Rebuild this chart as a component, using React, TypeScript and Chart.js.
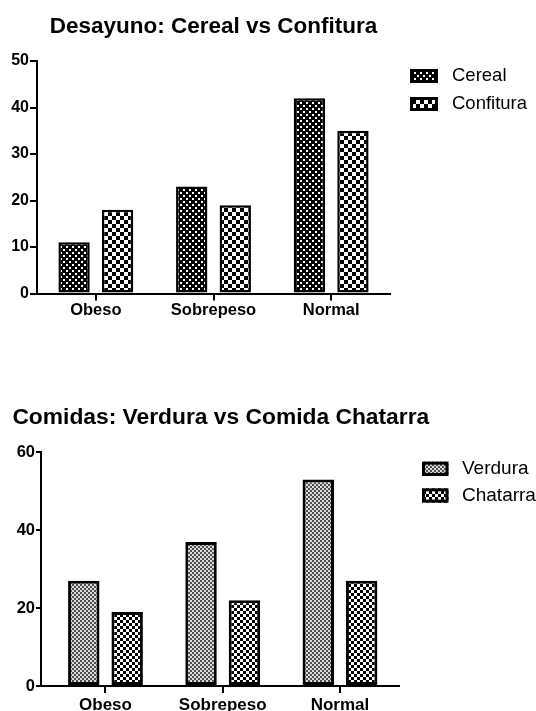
import React, { useEffect, useRef } from "react";
import { Chart, registerables } from "chart.js";

Chart.register(...registerables);

// ---- data ----
const categories = ["Obeso", "Sobrepeso", "Normal"];

const desayunoTitle = "Desayuno: Cereal vs Confitura";
const cerealLabel = "Cereal";
const cerealValues = [11, 23, 42];
const confituraLabel = "Confitura";
const confituraValues = [18, 19, 35];
const desayunoTicks = [0, 10, 20, 30, 40, 50];

const comidasTitle = "Comidas: Verdura vs Comida Chatarra";
const verduraLabel = "Verdura";
const verduraValues = [27, 37, 53];
const chatarraLabel = "Chatarra";
const chatarraValues = [19, 22, 27];
const comidasTicks = [0, 20, 40, 60];

const FONT = "'Liberation Sans', Arial, Helvetica, sans-serif";

// repeating tile: background colour plus a list of [x, y, w, h] squares in the second colour
function tilePattern(
  size: number,
  bg: string,
  fg: string,
  squares: number[][]
): CanvasPattern | string {
  const tile = document.createElement("canvas");
  tile.width = size;
  tile.height = size;
  const c = tile.getContext("2d");
  if (!c) return bg;
  c.fillStyle = bg;
  c.fillRect(0, 0, size, size);
  c.fillStyle = fg;
  squares.forEach(([x, y, w, h]) => c.fillRect(x, y, w, h));
  const main = document.createElement("canvas").getContext("2d");
  return (main && main.createPattern(tile, "repeat")) || bg;
}

const checker = (cell: number, dark: string, light: string) =>
  tilePattern(cell * 2, light, dark, [
    [0, 0, cell, cell],
    [cell, cell, cell, cell],
  ]);

// small white dots on black, staggered
const dots = () =>
  tilePattern(6, "#000", "#fff", [
    [0, 0, 2, 2],
    [3, 3, 2, 2],
  ]);

// chart title centred over the plot area
const panelTitle = {
  id: "panelTitle",
  afterDraw(chart: any, _args: any, opts: any) {
    const { ctx, chartArea } = chart;
    ctx.save();
    ctx.fillStyle = "#000";
    ctx.font = `bold ${opts.size}px ${FONT}`;
    ctx.textAlign = "center";
    ctx.textBaseline = "middle";
    ctx.fillText(opts.text, (chartArea.left + chartArea.right) / 2 + (opts.dx || 0), opts.y);
    ctx.restore();
  },
};

// legend drawn beside the plot area, one swatch per dataset
const sideLegend = {
  id: "sideLegend",
  afterDraw(chart: any, _args: any, opts: any) {
    const { ctx, chartArea } = chart;
    ctx.save();
    chart.data.datasets.forEach((ds: any, i: number) => {
      const cy = chartArea.top + opts.firstY + i * opts.spacing;
      const x = chartArea.right + opts.offsetX;
      const y = cy - opts.boxH / 2;
      ctx.fillStyle = ds.backgroundColor;
      ctx.fillRect(x, y, opts.boxW, opts.boxH);
      const b = opts.border;
      ctx.lineWidth = b;
      ctx.strokeStyle = "#000";
      ctx.strokeRect(x + b / 2, y + b / 2, opts.boxW - b, opts.boxH - b);
      ctx.fillStyle = "#000";
      ctx.font = `${opts.fontSize}px ${FONT}`;
      ctx.textBaseline = "middle";
      ctx.textAlign = "left";
      ctx.fillText(ds.label, x + opts.boxW + opts.gap, cy);
    });
    ctx.restore();
  },
};

interface PanelCfg {
  title: string;
  titleSize: number;
  titleY: number;
  titleDx: number;
  series: { label: string; values: number[]; fill: () => CanvasPattern | string }[];
  ticks: number[];
  top: number;
  height: number;
  blur?: number;
  xGap: number;
  padTop: number;
  padRight: number;
  padBottom: number;
  yAxisW: number;
  xAxisH: number;
  yTickSize: number;
  yTickLen: number;
  yTickPad: number;
  xTickSize: number;
  xTickPad: number;
  barBorder: number;
  catPct: number;
  barPct: number;
  legend: any;
}

function BarPanel({ cfg }: { cfg: PanelCfg }) {
  const ref = useRef<HTMLCanvasElement>(null);

  useEffect(() => {
    if (!ref.current) return;
    const datasets = cfg.series.map((s) => ({
      label: s.label,
      data: s.values.map((v, i) => ({ x: i, y: v })),
      backgroundColor: s.fill(),
      borderColor: "#000",
      borderWidth: cfg.barBorder,
      borderSkipped: false as const,
      categoryPercentage: cfg.catPct,
      barPercentage: cfg.barPct,
    }));
    const step = cfg.ticks[1] - cfg.ticks[0];

    const chart = new Chart(ref.current, {
      type: "bar",
      data: { datasets },
      plugins: [panelTitle, sideLegend],
      options: {
        animation: false,
        responsive: false,
        devicePixelRatio: 1,
        layout: {
          padding: { left: 0, top: cfg.padTop, right: cfg.padRight, bottom: cfg.padBottom },
        },
        plugins: {
          legend: { display: false },
          tooltip: { enabled: false },
          title: { display: false },
          panelTitle: { text: cfg.title, size: cfg.titleSize, y: cfg.titleY, dx: cfg.titleDx },
          sideLegend: cfg.legend,
        } as any,
        scales: {
          x: {
            type: "linear",
            min: -0.5 - cfg.xGap,
            max: categories.length - 0.5,
            offset: false,
            afterBuildTicks: (s: any) => {
              s.ticks = categories.map((_, i) => ({ value: i }));
            },
            afterFit: (s: any) => {
              s.height = cfg.xAxisH;
            },
            ticks: {
              autoSkip: false,
              maxRotation: 0,
              minRotation: 0,
              padding: cfg.xTickPad,
              color: "#000",
              font: { family: FONT, size: cfg.xTickSize, weight: "bold" },
              callback: (v: any) => categories[v as number] ?? "",
            },
            grid: {
              display: true,
              offset: false,
              drawOnChartArea: false,
              drawTicks: true,
              tickLength: 7,
              tickWidth: 2,
              tickColor: "#000",
              lineWidth: 2,
              color: "#000",
            },
            border: { display: true, color: "#000", width: 2 },
          },
          y: {
            type: "linear",
            min: cfg.ticks[0],
            max: cfg.ticks[cfg.ticks.length - 1],
            afterFit: (s: any) => {
              s.width = cfg.yAxisW;
            },
            ticks: {
              stepSize: step,
              padding: cfg.yTickPad,
              color: "#000",
              font: { family: FONT, size: cfg.yTickSize, weight: "bold" },
            },
            grid: {
              display: true,
              drawOnChartArea: false,
              drawTicks: true,
              tickLength: cfg.yTickLen,
              tickWidth: 2,
              tickColor: "#000",
              lineWidth: 2,
              color: "#000",
            },
            border: { display: true, color: "#000", width: 2 },
          },
        } as any,
      },
    });
    return () => chart.destroy();
  }, [cfg]);

  return (
    <canvas
      ref={ref}
      width={536}
      height={cfg.height}
      style={{
        position: "absolute",
        left: 0,
        top: cfg.top,
        width: 536,
        height: cfg.height,
        display: "block",
        filter: cfg.blur ? `blur(${cfg.blur}px)` : undefined,
      }}
    />
  );
}

const desayuno: PanelCfg = {
  title: desayunoTitle,
  titleSize: 22.5,
  titleY: 26.5,
  titleDx: 0,
  series: [
    { label: cerealLabel, values: cerealValues, fill: dots },
    { label: confituraLabel, values: confituraValues, fill: () => checker(4, "#000", "#fff") },
  ],
  ticks: desayunoTicks,
  top: 0,
  height: 330,
  xGap: 0,
  padTop: 61,
  padRight: 146,
  padBottom: 6.5,
  yAxisW: 37,
  xAxisH: 30,
  yTickSize: 16,
  yTickLen: 7,
  yTickPad: 1,
  xTickSize: 16.5,
  xTickPad: 0,
  barBorder: 2.5,
  catPct: 0.74,
  barPct: 0.72,
  legend: { offsetX: 20, firstY: 15, spacing: 28, boxW: 28, boxH: 14, border: 3, gap: 14, fontSize: 18.5 },
};

const comidas: PanelCfg = {
  title: comidasTitle,
  titleSize: 22.8,
  titleY: 37.5,
  titleDx: 1,
  series: [
    { label: verduraLabel, values: verduraValues, fill: () => checker(2, "#4e4e4e", "#dcdcdc") },
    { label: chatarraLabel, values: chatarraValues, fill: () => checker(3, "#000", "#fff") },
  ],
  ticks: comidasTicks,
  top: 380,
  height: 331,
  blur: 0.35,
  xGap: 0.05,
  padTop: 72.3,
  padRight: 137.4,
  padBottom: 0,
  yAxisW: 41,
  xAxisH: 25,
  yTickSize: 16.5,
  yTickLen: 5,
  yTickPad: 1,
  xTickSize: 17,
  xTickPad: 2,
  barBorder: 3,
  catPct: 0.74,
  barPct: 0.725,
  legend: { offsetX: 23.4, firstY: 16.5, spacing: 26.7, boxW: 26.5, boxH: 14.3, border: 3, gap: 13.5, fontSize: 19 },
};

export default function App() {
  return (
    <div style={{ position: "absolute", left: 0, top: 0, width: 536, height: 711, background: "#fff" }}>
      <BarPanel cfg={desayuno} />
      <BarPanel cfg={comidas} />
    </div>
  );
}
